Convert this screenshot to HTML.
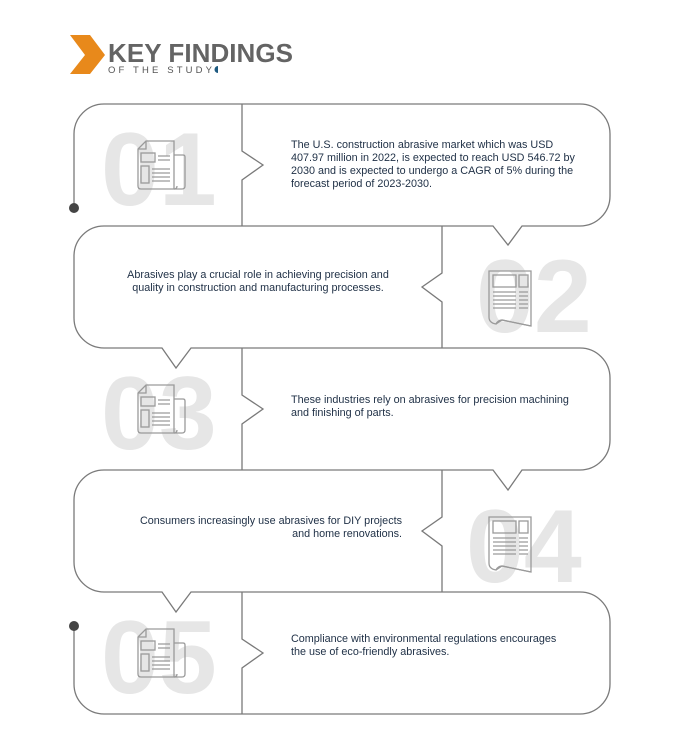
<!DOCTYPE html>
<html><head><meta charset="utf-8"><style>
html,body{margin:0;padding:0;background:#fff;}
svg{display:block;}
.t{font-family:"Liberation Sans",sans-serif;font-size:10.8px;fill:#1e2f45;}
.n{font-family:"Liberation Sans",sans-serif;font-weight:bold;font-size:104px;fill:#e6e6e6;}
.ic{fill:none;stroke:#9a9a9a;stroke-width:1.3;}
</style></head><body>
<svg width="690" height="745" viewBox="0 0 690 745" xmlns="http://www.w3.org/2000/svg">
<defs>
<g id="iA" class="ic">
  <path d="M9,1 L37,1 L37,49 L4,49 Q1,49 1,46 L1,9 Z"/>
  <path d="M1,9 L9,9 L9,1"/>
  <path d="M37,15 H46 Q48,15 48,17 V46 Q48,49 45,49 H37"/>
  <path d="M37,49 Q40,49 40,46"/>
  <rect x="4" y="13" width="14" height="9"/>
  <rect x="4" y="26" width="8" height="17"/>
  <path d="M21,16 H33 M21,20 H33 M15,29 H33 M15,33 H33 M15,37 H33 M15,41 H33"/>
</g>
<g id="iB" class="ic">
  <path d="M1,1 H43 V56 L14,50 Q10,50 8,54 Q1,53 1,47 Z"/>
  <path d="M8,54 L14,50 L43,56"/>
  <rect x="5" y="5" width="23" height="12"/>
  <rect x="31" y="5" width="9" height="12"/>
  <path d="M5,22 H28 M5,26 H28 M5,30 H28 M5,34 H28 M5,38 H28 M31,22 H40 M31,26 H40 M31,30 H40 M31,34 H40 M31,38 H40"/>
</g>
</defs>

<!-- title -->
<polygon points="70,35 90,35 105,55 90,74 70,74 85,55" fill="#e8891b"/>
<text x="108" y="62" font-family="Liberation Sans,sans-serif" font-weight="bold" font-size="26" fill="#646464" textLength="185">KEY FINDINGS</text>
<text x="108" y="73" font-family="Liberation Sans,sans-serif" font-size="9.5" fill="#555" textLength="104">OF THE STUDY</text>
<path d="M218,66 A3.5,3.5 0 0 0 218,73 Z" fill="#1d5a80"/>

<!-- big numbers -->
<text class="n" x="101" y="205">01</text>
<text class="n" x="476" y="332">02</text>
<text class="n" x="101" y="449">03</text>
<text class="n" x="466" y="582">04</text>
<text class="n" x="101" y="693">05</text>

<!-- icons -->
<use href="#iA" x="137" y="140"/>
<use href="#iB" x="488" y="270"/>
<use href="#iA" x="137" y="384"/>
<use href="#iB" x="488" y="516"/>
<use href="#iA" x="137" y="628"/>

<!-- outline -->
<path fill="none" stroke="#7a7a7a" stroke-width="1.3" d="M74,208 V134 A30,30 0 0 1 104,104 H580 A30,30 0 0 1 610,134 V196 A30,30 0 0 1 580,226 H522 L508,245 L493,226 H104 A30,30 0 0 0 74,256 V318 A30,30 0 0 0 104,348 H162 L176,368 L191,348 H580 A30,30 0 0 1 610,378 V440 A30,30 0 0 1 580,470 H522 L508,490 L493,470 H104 A30,30 0 0 0 74,500 V562 A30,30 0 0 0 104,592 H162 L176,612 L191,592 H580 A30,30 0 0 1 610,622 V684 A30,30 0 0 1 580,714 H104 A30,30 0 0 1 74,684 V626"/>
<g fill="none" stroke="#7a7a7a" stroke-width="1.3">
<path d="M242,104 V151 L263,165 L242,180 V226"/>
<path d="M442,226 V273 L422,287 L442,302 V348"/>
<path d="M242,348 V395 L263,409 L242,424 V470"/>
<path d="M442,470 V517 L422,531 L442,546 V592"/>
<path d="M242,592 V639 L263,653 L242,668 V714"/>
</g>
<circle cx="74" cy="208" r="5" fill="#444"/>
<circle cx="74" cy="626" r="5" fill="#444"/>

<!-- texts -->
<text class="t" x="291" y="148">The U.S. construction abrasive market which was USD</text>
<text class="t" x="291" y="161">407.97 million in 2022, is expected to reach USD 546.72 by</text>
<text class="t" x="291" y="174">2030 and is expected to undergo a CAGR of 5% during the</text>
<text class="t" x="291" y="187">forecast period of 2023-2030.</text>

<text class="t" x="258" y="278" text-anchor="middle">Abrasives play a crucial role in achieving precision and</text>
<text class="t" x="258" y="291" text-anchor="middle">quality in construction and manufacturing processes.</text>

<text class="t" x="291" y="403">These industries rely on abrasives for precision machining</text>
<text class="t" x="291" y="416">and finishing of parts.</text>

<text class="t" x="402" y="524" text-anchor="end">Consumers increasingly use abrasives for DIY projects</text>
<text class="t" x="402" y="537" text-anchor="end">and home renovations.</text>

<text class="t" x="291" y="642">Compliance with environmental regulations encourages</text>
<text class="t" x="291" y="655">the use of eco-friendly abrasives.</text>
</svg>
</body></html>
